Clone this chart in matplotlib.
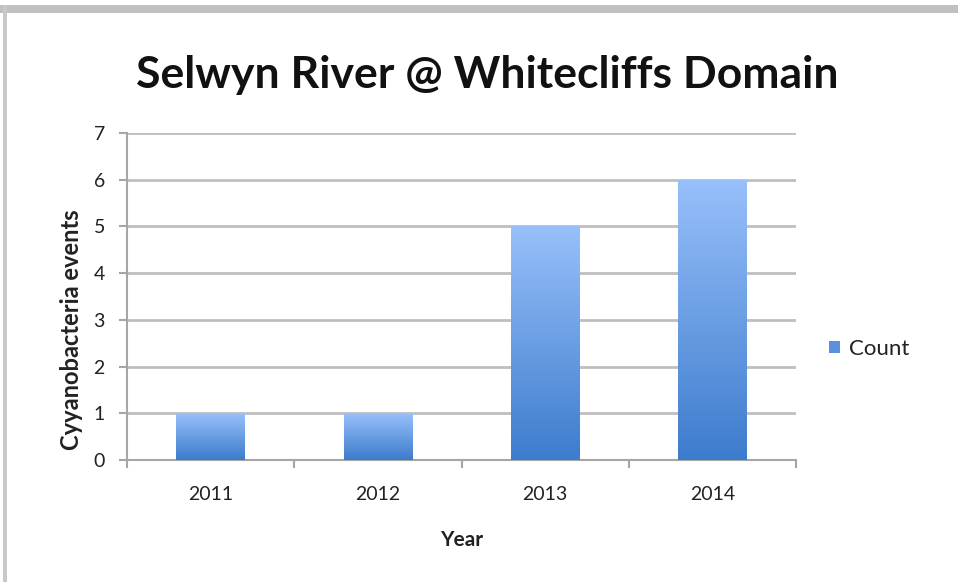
import numpy as np
import matplotlib.pyplot as plt
from matplotlib.patches import Rectangle

years = ["2011", "2012", "2013", "2014"]
counts = [1, 1, 5, 6]
y_ticks = [0, 1, 2, 3, 4, 5, 6, 7]

plt.rcParams['font.family'] = ['Lato', 'DejaVu Sans']

fig = plt.figure(figsize=(9.58, 5.82), dpi=100)
ax = fig.add_axes([0.1326, 0.2096, 0.6983, 0.5619])

# frame of the screenshot (gray band on top, thin line on left)
fig.patches.append(Rectangle((0, 1 - 13/582), 1, 8/582, transform=fig.transFigure,
                             color="#C0C0C0", lw=0, zorder=0))
fig.patches.append(Rectangle((3/958, 0), 4/958, 1 - 5/582, transform=fig.transFigure,
                             color="#C8C8C8", lw=0, zorder=0))

x = np.arange(len(years))
width = 0.41
bars = ax.bar(x, counts, width=width, color="none", edgecolor="none", zorder=3)

# vertical gradient on each bar
t = np.linspace(0, 1, 256)
top = np.array([0x98, 0xC0, 0xFA]) / 255
bot = np.array([0x3D, 0x7C, 0xCD]) / 255
img = (bot[None, :] + (top - bot)[None, :] * t[:, None]).reshape(256, 1, 3)
for b, v in zip(bars, counts):
    x0 = b.get_x()
    im = ax.imshow(img, extent=[x0, x0 + width, 0, v], origin="lower",
                   aspect="auto", zorder=3)
    im.set_clip_path(b)

ax.set_xlim(-0.5, len(years) - 0.5)
ax.set_ylim(0, 7)
ax.set_yticks(y_ticks)
ax.set_xticks(x)
ax.set_xticklabels(years)
ax.set_xticks(np.arange(len(years) + 1) - 0.5, minor=True)
ax.tick_params(axis="x", which="major", length=0, pad=19, labelsize=14, labelcolor="#222222")
ax.tick_params(axis="x", which="minor", length=6, width=1.5, color="#A6A6A6")
ax.tick_params(axis="y", length=6, width=1.5, color="#A6A6A6", pad=10, labelsize=14,
               labelcolor="#222222")

ax.grid(axis="y", color="#BFBFBF", linewidth=2, zorder=0)
ax.set_axisbelow(True)
for s in ["top", "right"]:
    ax.spines[s].set_visible(False)
for s in ["left", "bottom"]:
    ax.spines[s].set_color("#A6A6A6")
    ax.spines[s].set_linewidth(1.5)

fig.text(487/958, 1 - 75/582, "Selwyn River @ Whitecliffs Domain", fontsize=32,
         fontweight="bold", ha="center", va="center", color="#111111")
ax.set_xlabel("Year", fontsize=15, fontweight="bold", labelpad=19, color="#222222")
ax.set_ylabel("Cyyanobacteria events", fontsize=17, fontweight="bold", color="#222222")
ax.yaxis.set_label_coords(-0.066, 0.40)

legend_patch = Rectangle((0, 0), 1, 1, facecolor="#5A90DC")
ax.legend([legend_patch], ["Count"], loc="center left", bbox_to_anchor=(1.02, 0.34),
          frameon=False, fontsize=16, handlelength=0.5, handleheight=0.5, handletextpad=0.4,
          labelcolor="#222222")

fig.savefig("out.png", dpi=100)
